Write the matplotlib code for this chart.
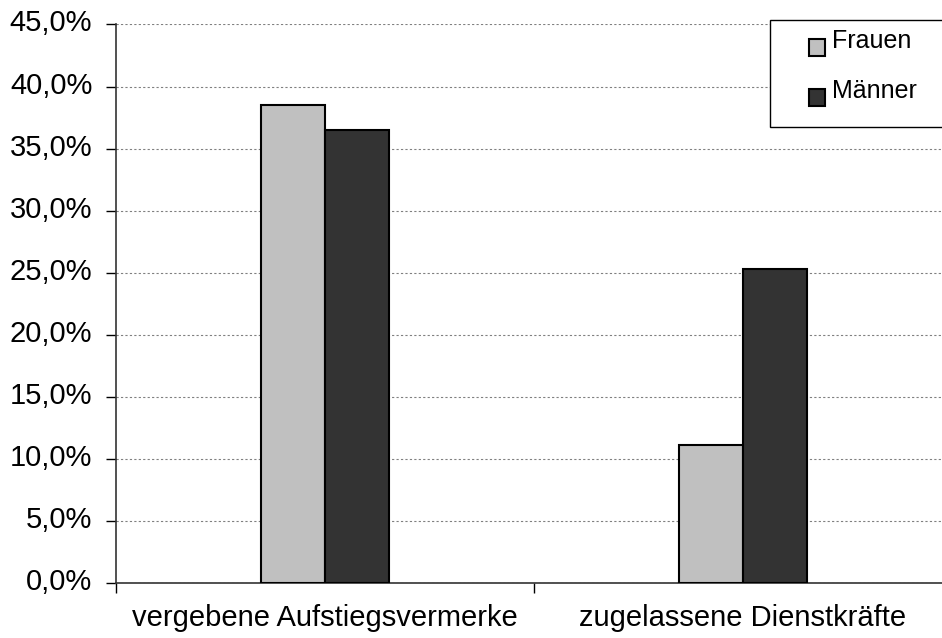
import numpy as np
import matplotlib.pyplot as plt
import matplotlib.transforms as mtransforms
from matplotlib.patches import Rectangle
from matplotlib.legend_handler import HandlerPatch
from matplotlib.ticker import FuncFormatter

plt.rcParams['font.family'] = ['Liberation Sans', 'DejaVu Sans']

categories = ['vergebene Aufstiegsvermerke', 'zugelassene Dienstkräfte']
frauen = [38.5, 11.1]
maenner = [36.5, 25.3]
yticks = np.arange(0, 46, 5)

fig = plt.figure(figsize=(9.42, 6.38), dpi=100)
ax = fig.add_axes([0.1231, 0.0867, 0.8875, 0.8749])

x = np.arange(len(categories))
w = 0.154
b1 = ax.bar(x - w / 2, frauen, w, color='#c0c0c0', edgecolor='black', linewidth=1.5,
            label='Frauen', zorder=3)
b2 = ax.bar(x + w / 2, maenner, w, color='#333333', edgecolor='black', linewidth=1.5,
            label='Männer', zorder=3)

ax.set_xlim(-0.5, 1.5)
ax.set_ylim(0, 45)
ax.set_yticks(yticks)
ax.yaxis.set_major_formatter(FuncFormatter(lambda v, p: f'{v:.1f}%'.replace('.', ',')))
ax.grid(axis='y', color='#808080', linestyle=(0, (2, 2)), linewidth=0.8, zorder=0)

# kategorien zwischen den teilstrichen beschriften
ax.set_xticks([-0.5, 0.5, 1.5])
ax.set_xticklabels([])
ax.set_xticks(x, minor=True)
ax.set_xticklabels(categories, minor=True)
ax.tick_params(axis='x', which='minor', length=0, pad=15, labelsize=21)
ax.tick_params(axis='x', which='major', length=7, width=1, color='black')
ax.tick_params(axis='y', length=7, width=1, labelsize=21, pad=10)

# y-beschriftung etwas nach oben versetzt
shift = mtransforms.ScaledTranslation(0, 0.04, fig.dpi_scale_trans)
for lbl in ax.get_yticklabels():
    lbl.set_transform(lbl.get_transform() + shift)

for s in ['top', 'right']:
    ax.spines[s].set_visible(False)
for s in ['left', 'bottom']:
    ax.spines[s].set_color('#333333')
    ax.spines[s].set_linewidth(1.2)


def low_square(legend, orig_handle, xdescent, ydescent, width, height, fontsize):
    # kästchen etwas unterhalb der textmitte
    return Rectangle((-xdescent, -ydescent - 0.5 * height), width, height)


# legendenrahmen ragt rechts über den rand hinaus
ax.add_patch(Rectangle((770 / 942, 1 - 127 / 638), 0.25, 107 / 638,
                       transform=fig.transFigure, facecolor='white',
                       edgecolor='black', linewidth=1.0, zorder=4, clip_on=False))
leg = ax.legend([b1.patches[0], b2.patches[0]], ['Frauen', 'Männer'],
                loc='upper left', bbox_to_anchor=(809 / 942, 1 - 29 / 638),
                bbox_transform=fig.transFigure, fontsize=18, frameon=False,
                handlelength=0.65, handleheight=0.65, handletextpad=0.25,
                labelspacing=1.04, borderpad=0, borderaxespad=0,
                handler_map={Rectangle: HandlerPatch(patch_func=low_square)})
leg.set_zorder(5)

fig.savefig('out.png', dpi=100)
